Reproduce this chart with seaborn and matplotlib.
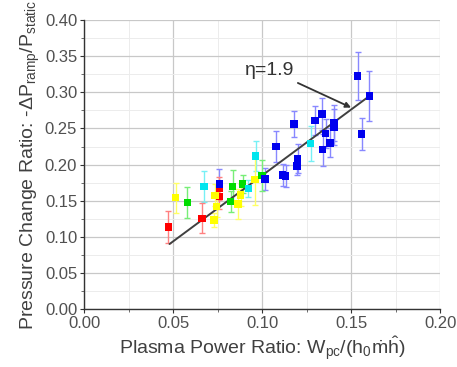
import numpy as np
import pandas as pd
import matplotlib
matplotlib.use("Agg")
import matplotlib.pyplot as plt
import seaborn as sns
from matplotlib.ticker import MultipleLocator, FormatStrFormatter

# ---- data ----
red_x = [0.0474, 0.0663, 0.0760, 0.0760]
red_y = [0.1134, 0.1258, 0.1670, 0.1560]
red_e = [0.022, 0.021, 0.016, 0.018]

yellow_x = [0.0515, 0.0730, 0.0736, 0.0745, 0.0865, 0.0880, 0.0960]
yellow_y = [0.1540, 0.1235, 0.1576, 0.1420, 0.1456, 0.1580, 0.1790]
yellow_e = [0.021, 0.010, 0.015, 0.015, 0.021, 0.015, 0.035]

green_x = [0.0580, 0.0824, 0.0835, 0.0890, 0.1000]
green_y = [0.1475, 0.1490, 0.1700, 0.1730, 0.1850]
green_e = [0.021, 0.014, 0.022, 0.012, 0.022]

cyan_x = [0.0674, 0.0923, 0.0964, 0.1273]
cyan_y = [0.1696, 0.1670, 0.2120, 0.2290]
cyan_e = [0.022, 0.012, 0.021, 0.024]

blue_x = [0.0760, 0.1017, 0.1079, 0.1116, 0.1133, 0.1180, 0.1197, 0.1200,
          0.1298, 0.1337, 0.1340, 0.1358, 0.1382, 0.1404, 0.1404, 0.1537,
          0.1560, 0.1603]
blue_y = [0.1730, 0.1800, 0.2250, 0.1857, 0.1840, 0.2560, 0.1980, 0.2080,
          0.2610, 0.2700, 0.2207, 0.2430, 0.2300, 0.2516, 0.2580, 0.3226,
          0.2424, 0.2950]
blue_e = [0.021, 0.015, 0.022, 0.015, 0.015, 0.018, 0.012, 0.020,
          0.020, 0.022, 0.022, 0.020, 0.020, 0.025, 0.025, 0.033,
          0.022, 0.034]

fit_x = [0.048, 0.1603]
fit_y = [0.090, 0.295]

x_ticks = [0.00, 0.05, 0.10, 0.15, 0.20]
y_ticks = [0.00, 0.05, 0.10, 0.15, 0.20, 0.25, 0.30, 0.35, 0.40]
annot_text = "η=1.9"

groups = {
    "red": (red_x, red_y, red_e),
    "yellow": (yellow_x, yellow_y, yellow_e),
    "green": (green_x, green_y, green_e),
    "cyan": (cyan_x, cyan_y, cyan_e),
    "blue": (blue_x, blue_y, blue_e),
}
colors = {"red": "#ff0000", "yellow": "#ffff00", "green": "#00dd00",
          "cyan": "#00e5ee", "blue": "#0000ee"}
err_colors = {"red": "#ff8080", "yellow": "#ffff66", "green": "#77ee77",
              "cyan": "#77f0f5", "blue": "#8888ff"}

rows = []
for g, (xs, ys, es) in groups.items():
    for x, y, e in zip(xs, ys, es):
        rows.append({"x": x, "y": y, "err": e, "group": g})
df = pd.DataFrame(rows)

sns.set_theme(style="white")
plt.rcParams["font.family"] = ["Liberation Sans", "DejaVu Sans"]
plt.rcParams["mathtext.fontset"] = "custom"
plt.rcParams["mathtext.rm"] = "Liberation Sans"
plt.rcParams["mathtext.it"] = "Liberation Sans"
plt.rcParams["mathtext.bf"] = "Liberation Sans:bold"

fig = plt.figure(figsize=(4.57, 3.67), dpi=100)
ax = fig.add_axes([0.184, 0.158, 0.779, 0.787])

# error bars
for g, sub in df.groupby("group"):
    ax.errorbar(sub["x"], sub["y"], yerr=sub["err"], fmt="none",
                ecolor=err_colors[g], elinewidth=1.0, capsize=2.5,
                capthick=1.0, zorder=2)

# fit line
sns.lineplot(x=fit_x, y=fit_y, ax=ax, color="#404040", lw=1.4, zorder=3)

# points
sns.scatterplot(data=df, x="x", y="y", hue="group", palette=colors,
                marker="s", s=28, edgecolor="none", legend=False, ax=ax,
                zorder=4)

ax.annotate(annot_text, xy=(0.150, 0.279), xytext=(0.0905, 0.331),
            fontsize=14, color="#333333", va="center", ha="left",
            arrowprops=dict(arrowstyle="-|>", color="#333333", lw=1.3,
                            mutation_scale=8, shrinkA=2, shrinkB=0))

ax.set_xlim(0, 0.20)
ax.set_ylim(0, 0.40)
ax.set_xticks(x_ticks)
ax.set_yticks(y_ticks)
ax.xaxis.set_major_formatter(FormatStrFormatter("%.2f"))
ax.yaxis.set_major_formatter(FormatStrFormatter("%.2f"))
ax.xaxis.set_minor_locator(MultipleLocator(0.025))
ax.yaxis.set_minor_locator(MultipleLocator(0.025))
ax.grid(True, which="major", color="#c8c8c8", lw=0.9)
ax.grid(True, which="minor", color="#ececec", lw=0.7)
ax.set_axisbelow(True)

for s in ["top", "right"]:
    ax.spines[s].set_visible(False)
for s in ["left", "bottom"]:
    ax.spines[s].set_color("#333333")
    ax.spines[s].set_linewidth(1.0)

ax.tick_params(axis="both", which="major", direction="out", length=3,
               width=0.8, color="#333333", labelsize=12,
               labelcolor="#505050", pad=2, left=True, bottom=True)
ax.tick_params(axis="both", which="minor", direction="out", length=2,
               width=0.6, color="#555555", left=True, bottom=True)

ax.set_xlabel(r"Plasma Power Ratio: W$_{\mathrm{pc}}$/(h$_{\mathrm{0}}\dot{\mathrm{m}}\hat{\mathrm{h}}$)",
              fontsize=14, color="#404040", labelpad=3)
ax.set_ylabel(r"Pressure Change Ratio: -$\Delta$P$_{\mathrm{ramp}}$/P$_{\mathrm{static}}$",
              fontsize=14, color="#404040", labelpad=2)

fig.savefig("out.png", dpi=100)
